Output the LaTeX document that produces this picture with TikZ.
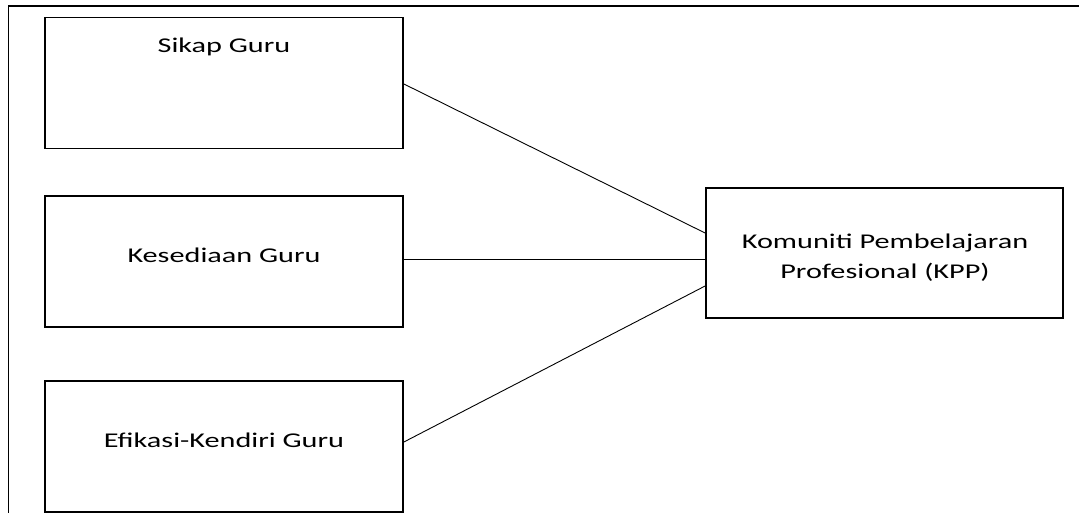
\documentclass[tikz,border=0pt]{standalone}
\usepackage{fontspec}
\setmainfont{Carlito}[FakeStretch=1.44]
\usetikzlibrary{calc}
\tikzset{
  framebox/.style={draw, line width=1.8pt, minimum width=358pt, minimum height=131pt, inner sep=0pt},
  lbl/.style={font=\fontsize{21}{30}\selectfont, align=center, inner sep=0pt},
  conn/.style={line width=0.9pt},
  frameline/.style={line width=1.8pt}
}
\begin{document}
\begin{tikzpicture}[x=1pt,y=-1pt]
\useasboundingbox (0,0) rectangle (1079,513);
% outer frame (only left and top sides visible)
\coordinate (fb) at (8.5,513);
\coordinate (fc) at (8.5,6);
\coordinate (fr) at (1079,6);
\draw[frameline] (fb) -- (fc) -- (fr);
% boxes
\node[framebox] (b1) at (224,83) {};
\node[framebox] (b2) at (224,261.5) {};
\node[framebox] (b3) at (224,446.5) {};
\node[framebox, minimum width=357pt, minimum height=130pt] (kpp) at (884.5,253) {};
% texts
\node[lbl] (t1) at (224,47) {Sikap Guru};
\node[lbl] (t2) at (224,255) {Kesediaan Guru};
\node[lbl] (t3) at (224,440) {Efikasi-Kendiri Guru};
\node[lbl] (t4) at (885,258) {Komuniti Pembelajaran\\Profesional (KPP)};
% connector endpoints
\coordinate (k1) at ([yshift=20pt]kpp.west);
\coordinate (k2) at ([yshift=-6pt]kpp.west);
\coordinate (k3) at ([yshift=-33pt]kpp.west);
\coordinate (s1) at ([yshift=-1pt]b1.east);
\coordinate (s2) at ([yshift=2.5pt]b2.east);
\coordinate (s3) at ([yshift=4.5pt]b3.east);
\draw[conn] (s1) -- (k1);
\draw[conn] (s2) -- (k2);
\draw[conn] (s3) -- (k3);
\end{tikzpicture}
\end{document}
